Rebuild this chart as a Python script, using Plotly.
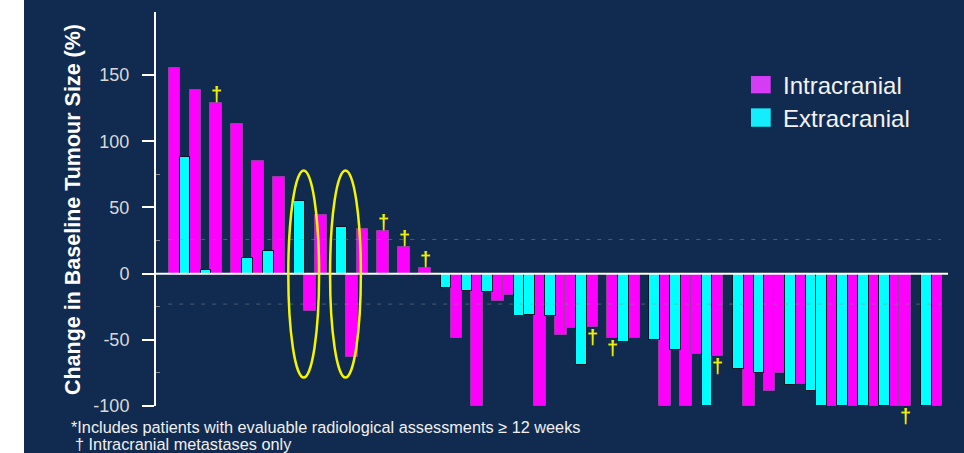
import plotly.graph_objects as go

# ---------------- data ----------------
positions = list(range(74))  # bar slots, two per patient
intracranial = [155, None, 139, None, 129, None, 113, None, 85, None,
                73, None, None, -28, 44, None, None, -63, 34, None,
                32, None, 20, None, 4, None, None, -49, None, -100,
                None, -21, -16, None, None, -100, None, -46, -41, None,
                -40, None, -49, None, -49, None, None, -100, None, -100,
                -61, None, -62, None, None, -100, None, -89, -75, None,
                -83, None, None, -100, None, -100, None, -100, None, -100,
                -100, None, None, -100]
extracranial = [None, 88, None, 3, None, None, None, 12, None, 17,
                None, None, 55, None, None, None, 35, None, None, None,
                None, None, None, None, None, None, -11, None, -13, None,
                -14, None, None, -32, -31, None, -32, None, None, -69,
                None, None, None, -52, None, None, -50, None, -58, None,
                None, -100, None, None, -72, None, -75, None, None, -84,
                None, -89, -100, None, -100, None, -100, None, -100, None,
                None, None, -100, None]
dagger_positions = [4, 20, 22, 24, 40, 42, 52, 70]   # intracranial metastases only
circled_pairs = [12, 16]                              # first slot of circled patients
y_ticks = [-100, -50, 0, 50, 100, 150]
y_ticktext = ["-100", "-50", "0", "50", "100", "150"]
y_minor = [-75, -25, 25, 75]
legend_labels = ["Intracranial", "Extracranial"]
footnotes = ["*Includes patients with evaluable radiological assessments \u2265 12 weeks",
             "\u2020 Intracranial metastases only"]

# ---------------- style ----------------
NAVY = "#112b50"
MAGENTA = "#ff00ff"
CYAN = "#00ffff"
FONT = "Liberation Sans"

W, H = 964, 453
ML, MR, MT, MB = 156, 16, 12, 47.2
PW, PH = W - ML - MR, H - MT - MB


def px(xp):
    return (xp - ML) / PW


def py(yp):
    return (H - MB - yp) / PH


fig = go.Figure()
fig.add_trace(go.Bar(x=positions, y=intracranial, width=1.12, name=legend_labels[0],
                     marker=dict(color=MAGENTA, line=dict(color="#9a3aa8", width=1)),
                     showlegend=False))
fig.add_trace(go.Bar(x=positions, y=extracranial, width=1.02, name=legend_labels[1],
                     marker=dict(color=CYAN, line=dict(color="#0a1626", width=1)),
                     showlegend=False))

shapes = []
# left white strip
shapes.append(dict(type="rect", xref="paper", yref="paper", x0=px(0), x1=px(24),
                   y0=py(H + 2), y1=py(-2), fillcolor="white", line=dict(width=0), layer="above"))
# faint dashed lines
for yv in (25.8, -23):
    shapes.append(dict(type="line", xref="x", yref="y", x0=-0.6, x1=73.4, y0=yv, y1=yv,
                       line=dict(color="rgba(140,140,140,0.5)", width=1, dash="4px,7px"),
                       layer="above"))
# zero line
shapes.append(dict(type="line", xref="paper", yref="y", x0=0, x1=1, y0=0, y1=0,
                   line=dict(color="white", width=2), layer="above"))
# yellow ellipses
for k in circled_pairs:
    shapes.append(dict(type="circle", xref="x", yref="y", x0=k - 1.1, x1=k + 1.85,
                       y0=-78.5, y1=78, line=dict(color="#f5f500", width=2.5), layer="above"))
# legend squares
shapes.append(dict(type="rect", xref="paper", yref="paper", x0=px(751), x1=px(770.7),
                   y0=py(93.3), y1=py(76), fillcolor="#d63cf5", line=dict(width=0)))
shapes.append(dict(type="rect", xref="paper", yref="paper", x0=px(751), x1=px(770.7),
                   y0=py(126.7), y1=py(108.3), fillcolor="#14eefc", line=dict(width=0)))

annotations = []
for p in dagger_positions:
    v = intracranial[p]
    annotations.append(dict(x=p, y=v, xref="x", yref="y", text="<b>\u2020</b>", showarrow=False,
                            font=dict(family=FONT, size=20, color="#f0f000"),
                            yanchor="middle", yshift=9 if v >= 0 else -10))
annotations.append(dict(x=px(780.5), y=py(85.3), xref="paper", yref="paper", text=legend_labels[0],
                        showarrow=False, xanchor="left", yanchor="middle",
                        font=dict(family=FONT, size=24, color="#f2f2f2")))
annotations.append(dict(x=px(780.5), y=py(118), xref="paper", yref="paper", text=legend_labels[1],
                        showarrow=False, xanchor="left", yanchor="middle",
                        font=dict(family=FONT, size=24, color="#f2f2f2")))
annotations.append(dict(x=px(73), y=py(210), xref="paper", yref="paper",
                        text="<b>Change in Baseline Tumour Size (%)</b>", textangle=-90,
                        showarrow=False, xanchor="center", yanchor="middle",
                        font=dict(family=FONT, size=21.5, color="white")))
annotations.append(dict(x=px(69), y=py(427), xref="paper", yref="paper", text=footnotes[0],
                        showarrow=False, xanchor="left", yanchor="middle",
                        font=dict(family=FONT, size=16.3, color="#f0f0f0")))
annotations.append(dict(x=px(73), y=py(444), xref="paper", yref="paper", text=footnotes[1],
                        showarrow=False, xanchor="left", yanchor="middle",
                        font=dict(family=FONT, size=16.3, color="#f0f0f0")))

fig.update_layout(
    width=W, height=H, autosize=False,
    margin=dict(l=ML, r=MR, t=MT, b=MB, pad=0),
    paper_bgcolor=NAVY, plot_bgcolor=NAVY,
    barmode="overlay", bargap=0,
    showlegend=False,
    xaxis=dict(visible=False, range=[-1.772, 74.09]),
    yaxis=dict(range=[-100, 197.66], tickvals=y_ticks, ticktext=y_ticktext,
               ticks="outside", ticklen=12,
               tickwidth=2, tickcolor="white", showline=True, linecolor="white", linewidth=2,
               showgrid=False, zeroline=False, ticklabelstandoff=9,
               tickfont=dict(family=FONT, size=18, color="#d9d9d9"),
               minor=dict(tickvals=y_minor, ticks="inside", ticklen=4, tickcolor="#8a8a8a",
                          tickwidth=1)),
    shapes=shapes,
    annotations=annotations,
)

fig.write_html("out.html", config={"displayModeBar": False},
               post_script="document.body.style.margin='0';")
